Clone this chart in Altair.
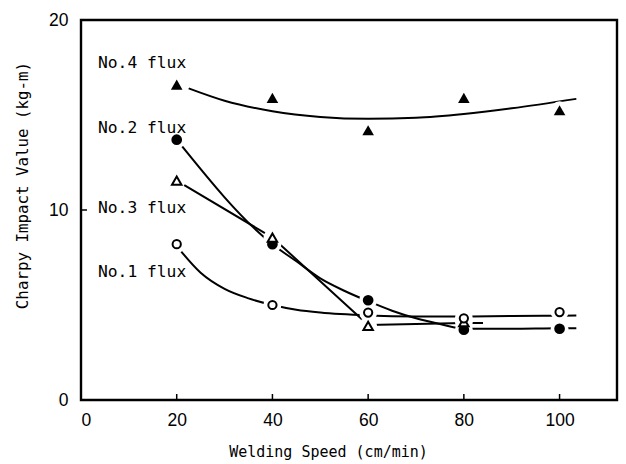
import altair as alt
import pandas as pd

# ---- data ----
speed = [20, 40, 60, 80, 100]
no1_pts = [8.2, 5.0, 4.6, 4.3, 4.63]
no2_pts = [13.7, 8.2, 5.25, 3.7, 3.75]
no3_speed = [20, 40, 60, 80]
no3_pts = [11.55, 8.55, 3.9, 4.1]
no4_pts = [16.6, 15.9, 14.2, 15.9, 15.25]

# fitted curves
c1x = [20, 25, 30, 35, 40, 45, 50, 60, 70, 80, 90, 100, 103.5]
c1y = [8.1, 6.7, 5.85, 5.35, 5.0, 4.75, 4.6, 4.45, 4.4, 4.4, 4.42, 4.44, 4.45]
c2x = [20, 40, 45, 50, 55, 60, 65, 70, 75, 80, 90, 100, 103.5]
c2y = [13.7, 8.2, 7.3, 6.4, 5.75, 5.2, 4.7, 4.3, 4.0, 3.75, 3.75, 3.78, 3.78]
c3x = [20, 40, 60, 80, 84]
c3y = [11.55, 8.55, 3.95, 4.05, 4.05]
c4x = [22.5, 30, 40, 50, 60, 70, 80, 90, 103.5]
c4y = [16.4, 15.75, 15.2, 14.9, 14.8, 14.85, 15.05, 15.35, 15.85]

label_text = ["No.4 flux", "No.2 flux", "No.3 flux", "No.1 flux"]
label_x = [3.55, 3.55, 3.55, 3.55]
label_y = [17.45, 14.05, 9.85, 6.5]

x_ticks = [0, 20, 40, 60, 80, 100]
y_ticks = [0, 10, 20]

W, H = 536, 380
xs = alt.Scale(domain=[0, 112], nice=False)
ys = alt.Scale(domain=[0, 20], nice=False)

mono = "DejaVu Sans Mono"

curves_smooth = pd.DataFrame(
    [{"s": "No.1", "x": a, "y": b} for a, b in zip(c1x, c1y)]
    + [{"s": "No.2", "x": a, "y": b} for a, b in zip(c2x, c2y)]
    + [{"s": "No.4", "x": a, "y": b} for a, b in zip(c4x, c4y)]
)
curve3 = pd.DataFrame({"x": c3x, "y": c3y})

pts1 = pd.DataFrame({"x": speed, "y": no1_pts})
pts2 = pd.DataFrame({"x": speed, "y": no2_pts})
pts3 = pd.DataFrame({"x": no3_speed, "y": no3_pts})
pts4 = pd.DataFrame({"x": speed, "y": no4_pts})
allpts = pd.concat([pts1, pts2, pts3, pts4])

X = alt.X("x:Q", scale=xs, title="Welding Speed (cm/min)",
          axis=alt.Axis(values=x_ticks, ticks=False, domain=False, grid=False,
                        labelFont="Liberation Sans", labelFontSize=17.5, labelColor="black",
                        labelPadding=11, titleFont=mono, titleFontSize=15,
                        titleFontWeight="normal", titleColor="black",
                        titleX=247, titleY=51, titleBaseline="middle", titleAlign="center"))
Y = alt.Y("y:Q", scale=ys, title="Charpy Impact Value (kg-m)",
          axis=alt.Axis(values=y_ticks, ticks=False, domain=False, grid=False,
                        labelFont="Liberation Sans", labelFontSize=17.5, labelColor="black",
                        labelPadding=13, titleFont=mono, titleFontSize=15.8,
                        titleFontWeight="normal", titleColor="black",
                        titleX=-59, titleY=165, titleAngle=-90,
                        titleBaseline="middle", titleAlign="center"))

smooth = alt.Chart(curves_smooth).mark_line(
    interpolate="monotone", color="black", strokeWidth=2
).encode(x=X, y=Y, detail="s:N")

straight = alt.Chart(curve3).mark_line(
    interpolate="linear", color="black", strokeWidth=2
).encode(x=alt.X("x:Q", scale=xs), y=alt.Y("y:Q", scale=ys))

def P(df):
    return alt.Chart(df).encode(x=alt.X("x:Q", scale=xs), y=alt.Y("y:Q", scale=ys))

halo = P(allpts).mark_point(shape="circle", filled=True, color="white", opacity=1, size=320)
m4 = P(pts4).mark_point(shape="triangle-up", filled=True, color="black", opacity=1, size=135)
m2 = P(pts2).mark_point(shape="circle", filled=True, color="black", opacity=1, size=115)
m3 = P(pts3).mark_point(shape="triangle-up", filled=False, fill="white", stroke="black",
                        strokeWidth=2, opacity=1, size=90)
m1 = P(pts1).mark_point(shape="circle", filled=False, fill="white", stroke="black",
                        strokeWidth=2, opacity=1, size=68)

labels = alt.Chart(pd.DataFrame({"t": label_text, "x": label_x, "y": label_y})).mark_text(
    align="left", baseline="alphabetic", font=mono, fontSize=16.3, color="black"
).encode(x=alt.X("x:Q", scale=xs), y=alt.Y("y:Q", scale=ys), text="t:N")

xt = alt.Chart(pd.DataFrame({"x": [20, 40, 60, 80, 100]})).mark_rule(
    color="black", strokeWidth=1.5
).encode(x=alt.X("x:Q", scale=xs), y=alt.value(H), y2=alt.value(H - 6))

yt = alt.Chart(pd.DataFrame({"y": [10]})).mark_rule(
    color="black", strokeWidth=1.5
).encode(y=alt.Y("y:Q", scale=ys), x=alt.value(0), x2=alt.value(6))

chart = alt.layer(smooth, straight, halo, m4, m2, m3, m1, labels, xt, yt).properties(
    width=W, height=H,
    autosize=alt.AutoSizeParams(type="none"),
    padding={"left": 81, "top": 20, "right": 9, "bottom": 64},
    background="white",
).configure_view(stroke="black", strokeWidth=2.4)

chart.save("out.html", embed_options={"renderer": "svg", "actions": False})
